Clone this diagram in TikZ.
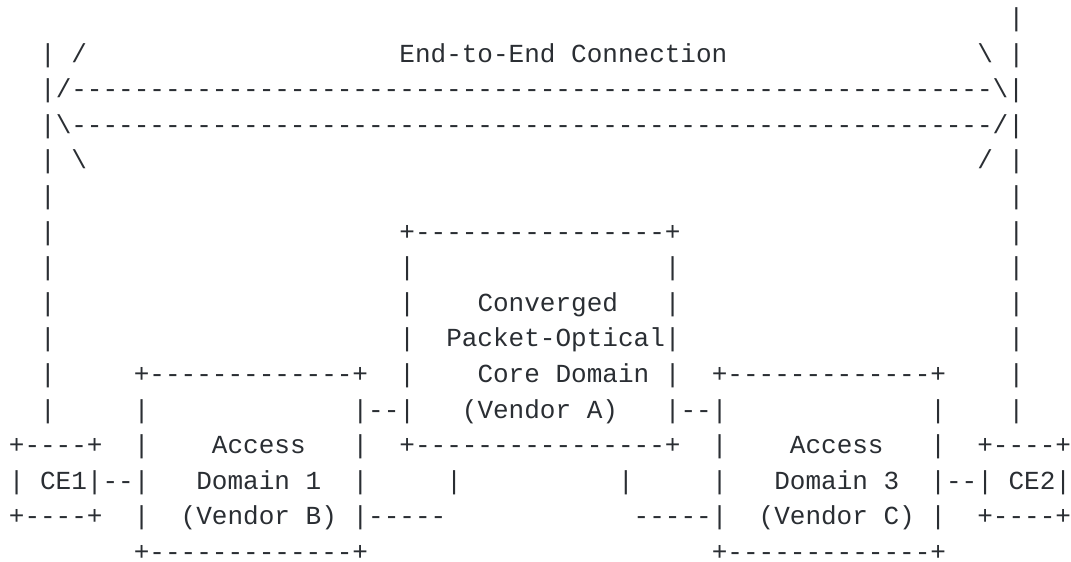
\documentclass[tikz,border=0pt]{standalone}
\usepackage{fontspec}
\setmonofont{Liberation Mono}
\definecolor{asciiink}{HTML}{2A2E33}
\tikzset{asciitext/.style={anchor=base west,inner sep=0pt,outer sep=0pt,font=\fontsize{19.52pt}{19.52pt}\selectfont\ttfamily,text=asciiink}}
\newcommand{\asc}[3]{\node[asciitext] (r#2c#1) at ({8.9+15.62*#1},{62+(#2-1)*35.6}) {#3};}
\newcommand{\bs}{\textbackslash}
\begin{document}
\begin{tikzpicture}[x=.75pt,y=-.75pt]
\useasboundingbox[fill=white] (0,0) rectangle (1071,561);
\asc{64}{0}{|}
\asc{2}{1}{| /}
\asc{25}{1}{End-to-End Connection}
\asc{62}{1}{\bs{} |}
\asc{2}{2}{|/-----------------------------------------------------------\bs|}
\asc{2}{3}{|\bs-----------------------------------------------------------/|}
\asc{2}{4}{| \bs}
\asc{62}{4}{/ |}
\asc{2}{5}{|}
\asc{64}{5}{|}
\asc{2}{6}{|}
\asc{25}{6}{+----------------+}
\asc{64}{6}{|}
\asc{2}{7}{|}
\asc{25}{7}{|}
\asc{42}{7}{|}
\asc{64}{7}{|}
\asc{2}{8}{|}
\asc{25}{8}{|}
\asc{30}{8}{Converged}
\asc{42}{8}{|}
\asc{64}{8}{|}
\asc{2}{9}{|}
\asc{25}{9}{|}
\asc{28}{9}{Packet-Optical|}
\asc{64}{9}{|}
\asc{2}{10}{|}
\asc{8}{10}{+-------------+}
\asc{25}{10}{|}
\asc{30}{10}{Core Domain}
\asc{42}{10}{|}
\asc{45}{10}{+-------------+}
\asc{64}{10}{|}
\asc{2}{11}{|}
\asc{8}{11}{|}
\asc{22}{11}{|--|}
\asc{29}{11}{(Vendor A)}
\asc{42}{11}{|--|}
\asc{59}{11}{|}
\asc{64}{11}{|}
\asc{0}{12}{+----+}
\asc{8}{12}{|}
\asc{13}{12}{Access}
\asc{22}{12}{|}
\asc{25}{12}{+----------------+}
\asc{45}{12}{|}
\asc{50}{12}{Access}
\asc{59}{12}{|}
\asc{62}{12}{+----+}
\asc{0}{13}{| CE1|--|}
\asc{12}{13}{Domain 1}
\asc{22}{13}{|}
\asc{28}{13}{|}
\asc{39}{13}{|}
\asc{45}{13}{|}
\asc{49}{13}{Domain 3}
\asc{59}{13}{|--| CE2|}
\asc{0}{14}{+----+}
\asc{8}{14}{|}
\asc{11}{14}{(Vendor B)}
\asc{22}{14}{|-----}
\asc{40}{14}{-----|}
\asc{48}{14}{(Vendor C)}
\asc{59}{14}{|}
\asc{62}{14}{+----+}
\asc{8}{15}{+-------------+}
\asc{45}{15}{+-------------+}
\end{tikzpicture}
\end{document}
